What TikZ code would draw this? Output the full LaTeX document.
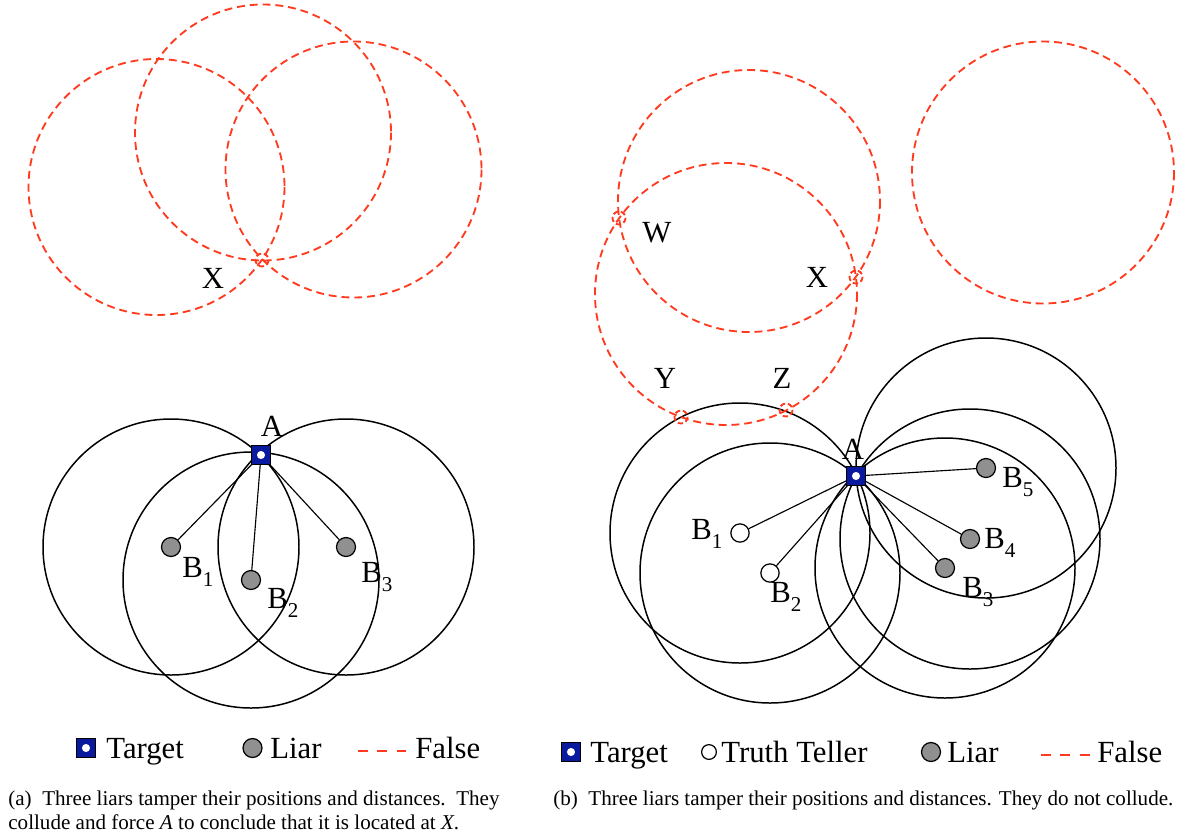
\documentclass[tikz,border=0pt]{standalone}
\usepackage{fontspec}
\setmainfont{Liberation Serif}
\usetikzlibrary{backgrounds}
\definecolor{falsered}{HTML}{FF3A1E}
\definecolor{tblue}{HTML}{0A1A9E}
\definecolor{liargray}{HTML}{909090}
\newcommand{\lowidx}[1]{\raisebox{-0.32em}{\fontsize{12}{12}\selectfont #1}}

\begin{document}
\begin{tikzpicture}[x=0.02cm,y=-0.02cm,
  lbl/.style={font=\fontsize{17.5}{20}\selectfont,inner sep=0pt},
  leg/.style={font=\fontsize{17.5}{20}\selectfont,inner sep=0pt,anchor=base west},
  captext/.style={font=\fontsize{12}{14}\selectfont,inner sep=0pt,anchor=base west},
  target/.style={draw=black,fill=tblue,rectangle,minimum size=10.4pt,inner sep=0pt,line width=0.7pt,
    path picture={\fill[white] (path picture bounding box.center) circle (2.3pt);}},
  liar/.style={draw=black,fill=liargray,circle,minimum size=10.8pt,inner sep=0pt,line width=0.7pt},
  truth/.style={draw=black,fill=white,circle,minimum size=10.4pt,inner sep=0pt,line width=0.7pt},
  rangecircle/.style={black,line width=0.85pt},
  fake/.style={falsered,line width=1.05pt,dash pattern=on 4.5pt off 2.8pt},
  cross/.style={falsered,line width=1.05pt,dash pattern=on 3pt off 1.6pt},
  legfake/.style={falsered,line width=1.2pt,dash pattern=on 5.6pt off 5.4pt},
  spoke/.style={black,line width=0.65pt}]

\useasboundingbox (0,0) rectangle (1184,836);

% ---- (a) liars collude
\draw[fake] (156.5,187) circle (128);
\draw[fake] (263,132.5) circle (128);
\draw[fake] (353.5,169.5) circle (128);
\coordinate (xa) at (262,260);
\draw[cross] (xa) circle (6.5);
\node[lbl] (xalab) at (213,278) {X};

\node[target] (ta) at (261,455) {};
\node[liar] (la1) at (171,547) {};
\node[liar] (la2) at (251,580) {};
\node[liar] (la3) at (346,547) {};
\begin{scope}[on background layer]
  \foreach \b in {la1,la2,la3}
    \draw[rangecircle] (\b) circle (128);
\end{scope}
\foreach \b in {la1,la2,la3}
  \draw[spoke] (ta) -- (\b);
\node[lbl] (talab) at (272,426) {A};
\node[lbl] (la1lab) at (198,572) {B\lowidx{1}};
\node[lbl] (la2lab) at (283,603) {B\lowidx{2}};
\node[lbl] (la3lab) at (377,577) {B\lowidx{3}};

% legend (a)
\node[target] (lgta) at (86,748) {};
\node[leg] (lgtatxt) at (106,758) {Target};
\node[liar] (lgla) at (252.5,748) {};
\node[leg] (lglatxt) at (270,758) {Liar};
\coordinate (lgfa1) at (358,751);
\coordinate (lgfa2) at (407,751);
\draw[legfake] (lgfa1) -- (lgfa2);
\node[leg] (lgfatxt) at (415,758) {False};

\node[captext] (capa1) at (8,805) {(a)\ \ Three liars tamper their positions and distances.\ \ They};
\node[captext] (capa2) at (8,829) {collude and force \textit{A} to conclude that it is located at \textit{X}.};

% ---- (b) liars do not collude
\draw[fake] (749,201) circle (131);
\draw[fake] (726,294) circle (131);
\draw[fake] (1043,172.5) circle (131);
\coordinate (wb) at (619,218);
\coordinate (xb) at (856,277);
\coordinate (yb) at (681,417);
\coordinate (zb) at (786,410);
\foreach \p in {wb,xb,yb,zb}
  \draw[cross] (\p) circle (6.5);
\node[lbl] (wblab) at (657,233) {W};
\node[lbl] (xblab) at (817,277) {X};
\node[lbl] (yblab) at (665,378) {Y};
\node[lbl] (zblab) at (782,378) {Z};

\node[target] (tb) at (856,476) {};
\node[truth] (tr1) at (740,533) {};
\node[truth] (tr2) at (770,573) {};
\node[liar] (lb3) at (945,568) {};
\node[liar] (lb4) at (970,539) {};
\node[liar] (lb5) at (986,468) {};
\begin{scope}[on background layer]
  \foreach \b in {tr1,tr2,lb3,lb4,lb5}
    \draw[rangecircle] (\b) circle (130);
\end{scope}
\foreach \b in {tr1,tr2,lb3,lb4,lb5}
  \draw[spoke] (tb) -- (\b);
\node[lbl] (tblab) at (853,449) {A};
\node[lbl] (tr1lab) at (707,534) {B\lowidx{1}};
\node[lbl] (tr2lab) at (786,597) {B\lowidx{2}};
\node[lbl] (lb3lab) at (978,592) {B\lowidx{3}};
\node[lbl] (lb4lab) at (1000,543) {B\lowidx{4}};
\node[lbl] (lb5lab) at (1018,482) {B\lowidx{5}};

% legend (b)
\node[target] (lgtb) at (571,752) {};
\node[leg] (lgtbtxt) at (590,762) {Target};
\node[truth,minimum size=8.4pt] (lgtr) at (709,752) {};
\node[leg] (lgtrtxt) at (721,762) {Truth Teller};
\node[liar] (lglb) at (931,752) {};
\node[leg] (lglbtxt) at (947,762) {Liar};
\coordinate (lgfb1) at (1041,755);
\coordinate (lgfb2) at (1091,755);
\draw[legfake] (lgfb1) -- (lgfb2);
\node[leg] (lgfbtxt) at (1097,762) {False};

\node[captext] (capb) at (553,805) {(b)\ \ Three liars tamper their positions and distances. They do not collude.};
\end{tikzpicture}
\end{document}
